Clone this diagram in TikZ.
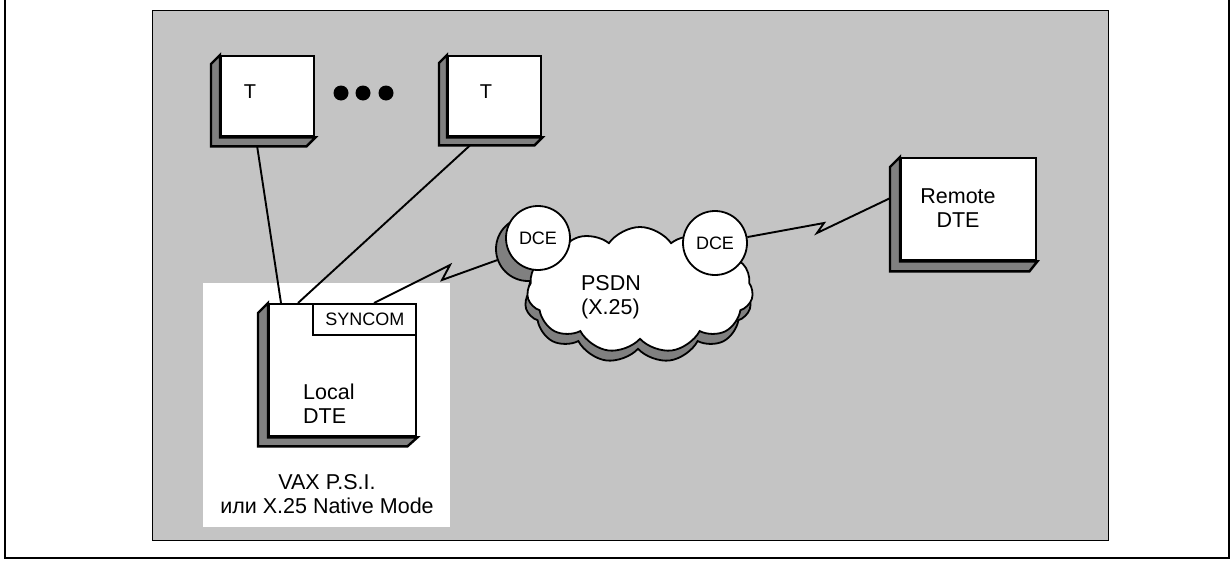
\documentclass[tikz,border=0pt]{standalone}
\usepackage{fontspec}
\setmainfont{Liberation Sans}
\usetikzlibrary{calc,shapes.symbols}
\definecolor{halftone}{gray}{0.77}
\definecolor{dense}{gray}{0.5}
\pgfdeclarelayer{panellayer}
\pgfdeclarelayer{shadelayer}
\pgfdeclarelayer{wirelayer}
\pgfsetlayers{panellayer,shadelayer,wirelayer,main}
\begin{document}
\begin{tikzpicture}[x=1pt,y=-1pt,line join=miter,
  txt/.style={font=\fontsize{20}{23}\selectfont, inner sep=0pt},
  bigtxt/.style={font=\fontsize{21.5}{24}\selectfont, inner sep=0pt},
  smalltxt/.style={font=\fontsize{18}{21}\selectfont, inner sep=0pt},
  facebox/.style={draw, line width=2.4pt, fill=white, inner sep=0pt, anchor=north west},
  sideface/.style={draw, line width=2.4pt, fill=dense},
  wire/.style={line width=1.9pt},
  dcenode/.style={circle, draw, line width=1.8pt, fill=white, minimum size=64pt, inner sep=0pt, font=\fontsize{18}{21}\selectfont},
  shadowdisc/.style={circle, draw, line width=1.8pt, fill=dense, minimum size=64pt, inner sep=0pt},
  cloudshape/.style={cloud, cloud puffs=11, cloud puff arc=110, aspect=1.8, minimum width=226pt, minimum height=126pt, draw, line width=1.8pt, inner sep=0pt}
]
\useasboundingbox (0,0) rectangle (1232,560);
\begin{pgfonlayer}{panellayer}
  % outer frame
  \draw[line width=1.5pt] (5,0) -- (5,558) -- (1229,558) -- (1229,0);
  % halftone panel
  \node[draw, line width=1.2pt, fill=halftone, inner sep=0pt, anchor=north west,
        minimum width=956pt, minimum height=530pt] (panel) at (152,10) {};
  % white area round local DTE
  \fill[white] (203,283) rectangle (450,527);
\end{pgfonlayer}

% terminals
\node[facebox, minimum width=93pt, minimum height=80pt] (t1) at (220,55) {};
\node[facebox, minimum width=93pt, minimum height=80pt] (t2) at (447,55) {};
\foreach \b/\d in {t1/9,t2/8}{
  \filldraw[sideface] (\b.north west) -- ++(-\d,\d) -- ($(\b.south west)+(-\d,\d)$)
     -- ($(\b.south east)+(-\d,\d)$) -- (\b.south east) -- (\b.south west) -- cycle;
}
\node[txt] (t1lbl) at (250,92) {T};
\node[txt] (t2lbl) at (486,92) {T};
\foreach \i/\x in {1/341,2/363,3/386}{
  \fill (\x,93) circle (7.5);
}

% local DTE
\node[facebox, minimum width=147pt, minimum height=132pt] (ldte) at (268,303) {};
\filldraw[sideface] (ldte.north west) -- ++(-10,10) -- ($(ldte.south west)+(-10,9)$)
   -- ($(ldte.south east)+(-10,9)$) -- (ldte.south east) -- (ldte.south west) -- cycle;
\node[draw, line width=2pt, fill=white, anchor=north east, minimum width=103pt,
      minimum height=31pt, inner sep=0pt, smalltxt] (syncom) at (ldte.north east) {SYNCOM};
\node[bigtxt, anchor=west, align=left] (ldtelbl) at (303,404) {Local\\DTE};
\node[bigtxt, align=center] (vax) at (327,494) {VAX P.S.I.\\или X.25 Native Mode};

% remote DTE
\node[facebox, minimum width=135pt, minimum height=102pt] (rdte) at (900,157) {};
\filldraw[sideface] (rdte.north west) -- ++(-10,10) -- ($(rdte.south west)+(-10,10)$)
   -- ($(rdte.south east)+(-8,10)$) -- (rdte.south east) -- (rdte.south west) -- cycle;
\node[bigtxt, align=center] (rdtelbl) at (958,208) {Remote\\DTE};

% cloud with shadow
\begin{pgfonlayer}{shadelayer}
  \node[cloudshape, fill=dense] (psdnshadow) at (638,300) {};
  \node[shadowdisc] (dce1s) at (528,249) {};
\end{pgfonlayer}
\node[cloudshape, fill=white] (psdn) at (640,290) {};
\node[bigtxt, align=left] (psdnlbl) at (611,297) {PSDN\\(X.25)};
\node[dcenode] (dce1) at (538,238) {DCE};
\node[dcenode] (dce2) at (715,243) {DCE};

% connectors
\begin{pgfonlayer}{wirelayer}
  \draw[wire] ($(t1.south west)+(37,8)$) -- ($(ldte.north west)+(13,0)$);
  \draw[wire] ($(t2.south west)+(23,8)$) -- ($(ldte.north west)+(30,0)$);
  \draw[wire] ($(ldte.north west)+(106,0)$) -- (450,265) -- (442,280) -- (dce1s);
  \draw[wire] (dce2) -- (824,223) -- (817,233) -- ($(rdte.west)+(-10,-11)$);
\end{pgfonlayer}
\end{tikzpicture}
\end{document}
